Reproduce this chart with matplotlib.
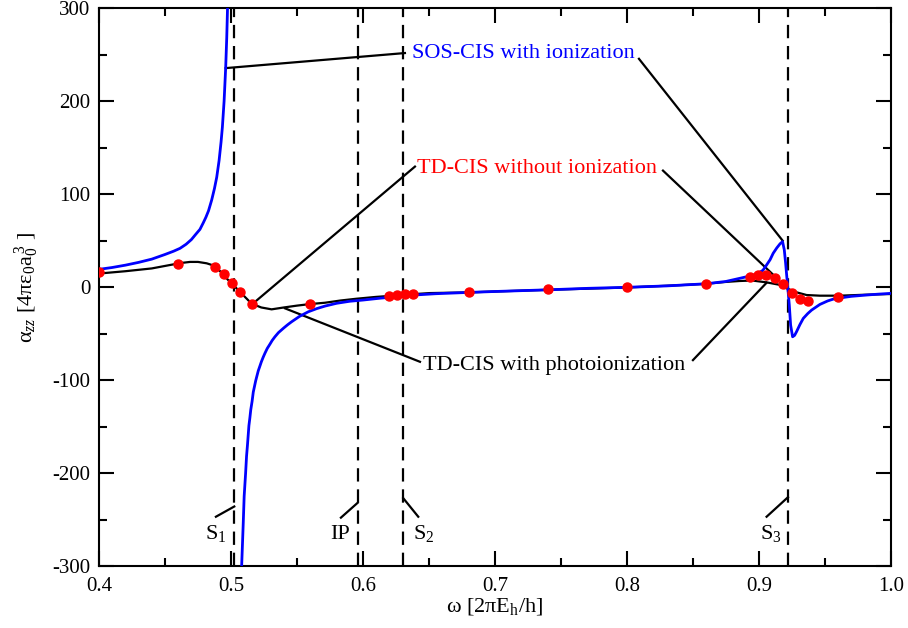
import matplotlib
matplotlib.use('Agg')
from matplotlib import pyplot as plt
from matplotlib.ticker import MultipleLocator, FormatStrFormatter

plt.rcParams['font.family'] = ['Liberation Serif', 'DejaVu Serif']
plt.rcParams['mathtext.fontset'] = 'custom'
plt.rcParams['mathtext.rm'] = 'Liberation Serif'
plt.rcParams['mathtext.it'] = 'Liberation Serif:italic'
plt.rcParams['axes.unicode_minus'] = False

# SOS-CIS with ionization (blue), split at the pole near S1
sos_x1 = [0.400, 0.410, 0.420, 0.430, 0.440, 0.450, 0.4565, 0.4614, 0.466, 0.470,
          0.4735, 0.4765, 0.479, 0.481, 0.483, 0.4854, 0.4875, 0.4892, 0.4910, 0.4925,
          0.4935, 0.4948, 0.4960, 0.4968, 0.4974]
sos_y1 = [19, 21, 23.5, 26.5, 30, 35, 38.5, 41.6, 46, 51,
          57, 62, 69, 75, 82, 93.6, 106, 118, 136, 156,
          172, 200, 236, 268, 300]
sos_x2 = [0.5081, 0.5093, 0.5100, 0.5111, 0.5118, 0.5125, 0.5136, 0.5143, 0.5150, 0.5160,
          0.5169, 0.5178, 0.5187, 0.5196, 0.5207, 0.5218, 0.5230, 0.5244, 0.5258, 0.5275,
          0.5295, 0.5312, 0.5333, 0.5360, 0.5400, 0.5430, 0.5460, 0.5520, 0.5586, 0.5650,
          0.5712, 0.5800, 0.5900, 0.6000, 0.6130, 0.6255, 0.6400, 0.6550, 0.6800, 0.7000,
          0.7400, 0.7705, 0.8000, 0.8300, 0.8600, 0.8750, 0.8856, 0.8930, 0.8982, 0.9030,
          0.9058, 0.9085, 0.9108, 0.9135, 0.9160, 0.9179, 0.9192, 0.9202, 0.9210, 0.9220,
          0.9230, 0.9240, 0.9255, 0.9270, 0.9285, 0.9310, 0.9336, 0.9370, 0.9399, 0.9462,
          0.9520, 0.9563, 0.9650, 0.9700, 0.9816, 0.9900, 1.0000]
sos_y2 = [-300, -254, -225, -200, -182, -170, -149, -141, -132, -123,
          -113, -107, -101, -96, -90, -85.5, -80.5, -75.5, -71, -66,
          -61.5, -57.5, -53.5, -49, -44, -40.5, -37.3, -31.5, -26.6, -23.2,
          -20.5, -17.5, -15.3, -14, -12, -10.4, -8.5, -7.2, -5.8, -4.8,
          -3, -1.4, -0.3, 1.2, 3.5, 6, 9.4, 11.8, 13.7, 18,
          23.7, 29.5, 36.3, 42, 46.5, 48.8, 40, 26, 12.9, -3,
          -19.4, -40.9, -53.5, -52, -48, -40.5, -33.7, -28.5, -24.8, -18.7,
          -15, -13, -11, -10, -8.6, -7.7, -6.8]

# TD-CIS with photoionization (black)
photo_x = [0.400, 0.420, 0.440, 0.455, 0.463, 0.469, 0.475, 0.4816, 0.486, 0.490,
           0.4935, 0.4967, 0.5010, 0.5055, 0.5105, 0.5157, 0.5230, 0.5308, 0.5400, 0.5500,
           0.5600, 0.5712, 0.5830, 0.5950, 0.6100, 0.6260, 0.6400, 0.6508, 0.6800, 0.7000,
           0.7400, 0.8000, 0.8400, 0.8600, 0.8750, 0.8856, 0.8950, 0.9058, 0.9152, 0.9210,
           0.9280, 0.9361, 0.9462, 0.9614, 0.9800, 1.0000]
photo_y = [14.5, 17, 20, 24, 26, 27, 27, 25.5, 23.5, 19.5,
           14.5, 9.3, 3, -3.2, -10.5, -18, -22, -24, -22, -20,
           -18.3, -16.9, -14.5, -12.6, -10.6, -9, -7.5, -6.5, -5.8, -4.8,
           -3, -0.5, 2, 3.5, 5.5, 6.5, 7, 5, 2.5, -1.4,
           -5.5, -8.6, -9.3, -9.3, -8.3, -7.5]

# TD-CIS without ionization (red dots)
noion_x = [0.400, 0.460, 0.488, 0.495, 0.501, 0.507, 0.516, 0.560, 0.620, 0.626,
           0.632, 0.638, 0.680, 0.740, 0.800, 0.860, 0.893, 0.8995, 0.905, 0.912,
           0.918, 0.925, 0.931, 0.937, 0.960]
noion_y = [15.8, 25, 21.9, 13.6, 4.7, -5, -18, -18.3, -9.3, -8.6,
           -7.9, -7.2, -5.7, -2.5, -0.5, 3.6, 10.8, 12.6, 13.3, 10,
           3.6, -6.1, -12.6, -14.7, -11.1]

# resonance / threshold positions
level_names = ['S$_1$', 'IP', 'S$_2$', 'S$_3$']
level_x = [0.5025, 0.5965, 0.6305, 0.9220]

fig = plt.figure(figsize=(9.08, 6.28), dpi=100)
ax = fig.add_axes([0.109, 0.0987, 0.8722, 0.8885])

for xv in level_x:
    ax.axvline(xv, color='black', lw=1.6, ls=(0, (6, 3.5)), zorder=1)

ax.plot(photo_x, photo_y, color='black', lw=1.6, zorder=2)
ax.plot(sos_x1, sos_y1, color='blue', lw=2.0, zorder=3)
ax.plot(sos_x2, sos_y2, color='blue', lw=2.0, zorder=3)
ax.plot(noion_x, noion_y, 'o', color='red', ms=6.5, mec='red', zorder=4)

# labels for the vertical lines
lab_pos = [(0.4803, 0.4886, 0.5025, -247, -236),
           (0.5755, 0.5833, 0.5960, -248, -232),
           (0.6379, 0.6419, 0.6305, -247, -227),
           (0.9008, 0.9058, 0.9220, -247, -226)]
for name, (tx, lx0, lx1, ly0, ly1) in zip(level_names, lab_pos):
    ax.plot([lx0, lx1], [ly0, ly1], color='black', lw=1.6, zorder=2)
    ax.text(tx, -271, name, fontsize=16, va='baseline', ha='left')

# curve annotations
ax.text(0.6374, 251.6, 'SOS-CIS with ionization', color='blue', fontsize=16, va='center')
ax.plot([0.4960, 0.6318], [235.4, 251.6], color='black', lw=1.6)
ax.plot([0.8091, 0.9180], [245.4, 49.8], color='black', lw=1.6)

ax.text(0.6407, 127.8, 'TD-CIS without ionization', color='red', fontsize=16, va='center')
ax.plot([0.6394, 0.5169], [129.5, -17.5], color='black', lw=1.6)
ax.plot([0.8273, 0.9129], [125.2, 10.4], color='black', lw=1.6)

ax.text(0.6455, -84, 'TD-CIS with photoionization', color='black', fontsize=16, va='center')
ax.plot([0.5409, 0.6432], [-22.9, -80.4], color='black', lw=1.6)
ax.plot([0.8500, 0.9058], [-78.6, 4.6], color='black', lw=1.6)

ax.set_xlim(0.4, 1.0)
ax.set_ylim(-300, 300)
ax.xaxis.set_major_locator(MultipleLocator(0.1))
ax.xaxis.set_minor_locator(MultipleLocator(0.05))
ax.yaxis.set_major_locator(MultipleLocator(100))
ax.yaxis.set_minor_locator(MultipleLocator(50))
ax.xaxis.set_major_formatter(FormatStrFormatter('%.1f'))
ax.tick_params(which='both', direction='in', top=True, right=True, width=1.5,
               labelsize=15)
ax.tick_params(axis='x', which='both', pad=8)
ax.tick_params(axis='y', which='both', pad=6)
ax.tick_params(which='major', length=11)
ax.tick_params(which='minor', length=5.5)
for s in ax.spines.values():
    s.set_linewidth(1.5)

ax.set_xlabel(r'ω [2πE$_\mathrm{h}$/h]', fontsize=16, labelpad=0)
ax.set_ylabel(r'α$_{zz}$ [4πε$_0$a$_0^{\,3}$ ]', fontsize=16, labelpad=8)

fig.savefig('out.png', dpi=100)
